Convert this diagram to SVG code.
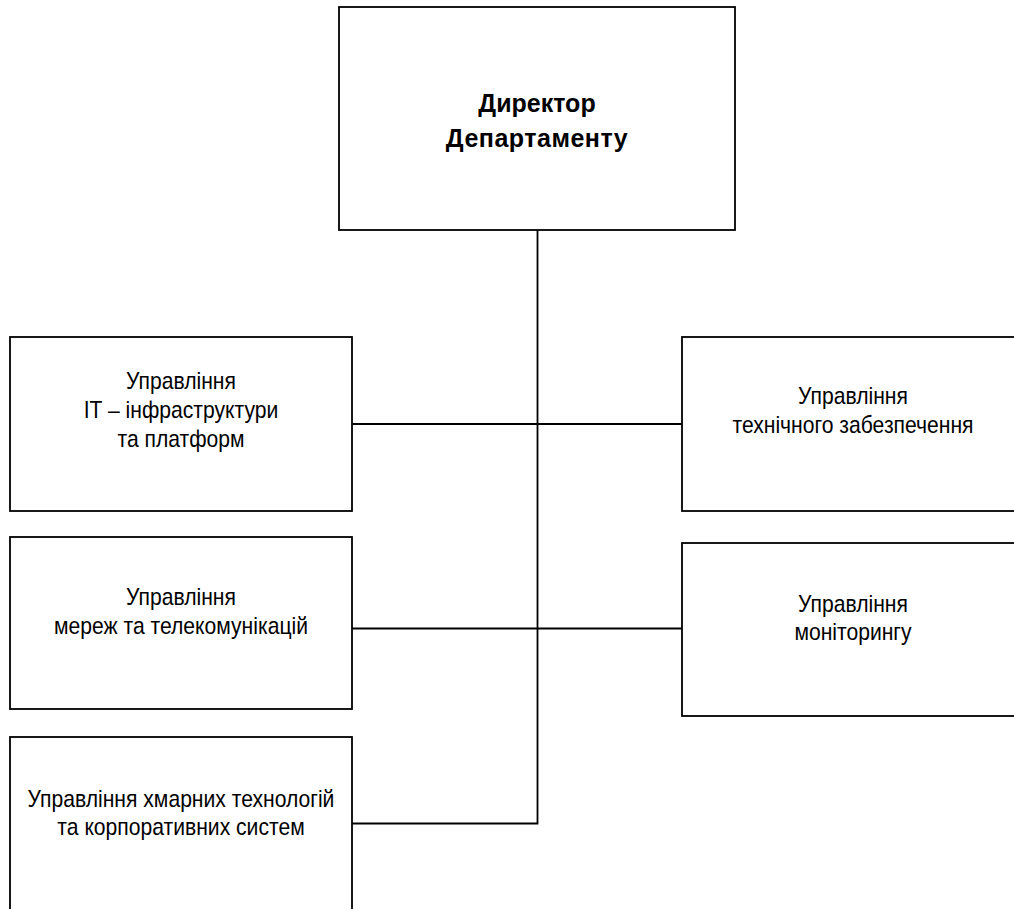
<svg xmlns="http://www.w3.org/2000/svg" width="1014" height="909" viewBox="0 0 1014 909">
<style>
.box{fill:#fff;stroke:#000;stroke-width:1.8}
.t{font-family:"Liberation Sans",Arial,sans-serif;font-size:24px;fill:#000;text-anchor:middle}
.b{font-family:"Liberation Sans",Arial,sans-serif;font-size:25px;font-weight:bold;fill:#000;text-anchor:middle}
.c{fill:none;stroke:#000;stroke-width:1.8}
</style>
<rect width="1014" height="909" fill="#fff"/>
<g id="connectors">
<path class="c" d="M537.5 230 V823.5 H352"/>
<path class="c" d="M352 424 H682"/>
<path class="c" d="M352 628.5 H682"/>
</g>
<g id="director">
<rect class="box" x="339" y="7" width="396" height="223"/>
<text class="b" x="537" y="112">Директор</text>
<text class="b" x="537" y="147" letter-spacing="0.5">Департаменту</text>
</g>
<g id="it-infra">
<rect class="box" x="10" y="337" width="342" height="174"/>
<text class="t" transform="translate(181 389) scale(0.88 1)">Управління</text>
<text class="t" transform="translate(181 418) scale(0.88 1)">IT – інфраструктури</text>
<text class="t" transform="translate(181 447) scale(0.88 1)">та платформ</text>
</g>
<g id="networks">
<rect class="box" x="10" y="537" width="342" height="172"/>
<text class="t" transform="translate(181 605) scale(0.88 1)">Управління</text>
<text class="t" transform="translate(181 634) scale(0.88 1)">мереж та телекомунікацій</text>
</g>
<g id="cloud">
<rect class="box" x="10" y="737" width="342" height="190"/>
<text class="t" transform="translate(181 807) scale(0.88 1)">Управління хмарних технологій</text>
<text class="t" transform="translate(181 835) scale(0.88 1)">та корпоративних систем</text>
</g>
<g id="tech-support">
<rect class="box" x="682" y="337" width="345" height="174"/>
<text class="t" transform="translate(853 404) scale(0.88 1)">Управління</text>
<text class="t" transform="translate(853 433) scale(0.88 1)">технічного забезпечення</text>
</g>
<g id="monitoring">
<rect class="box" x="682" y="543" width="345" height="173"/>
<text class="t" transform="translate(853 612) scale(0.88 1)">Управління</text>
<text class="t" transform="translate(853 640) scale(0.88 1)">моніторингу</text>
</g>
</svg>
